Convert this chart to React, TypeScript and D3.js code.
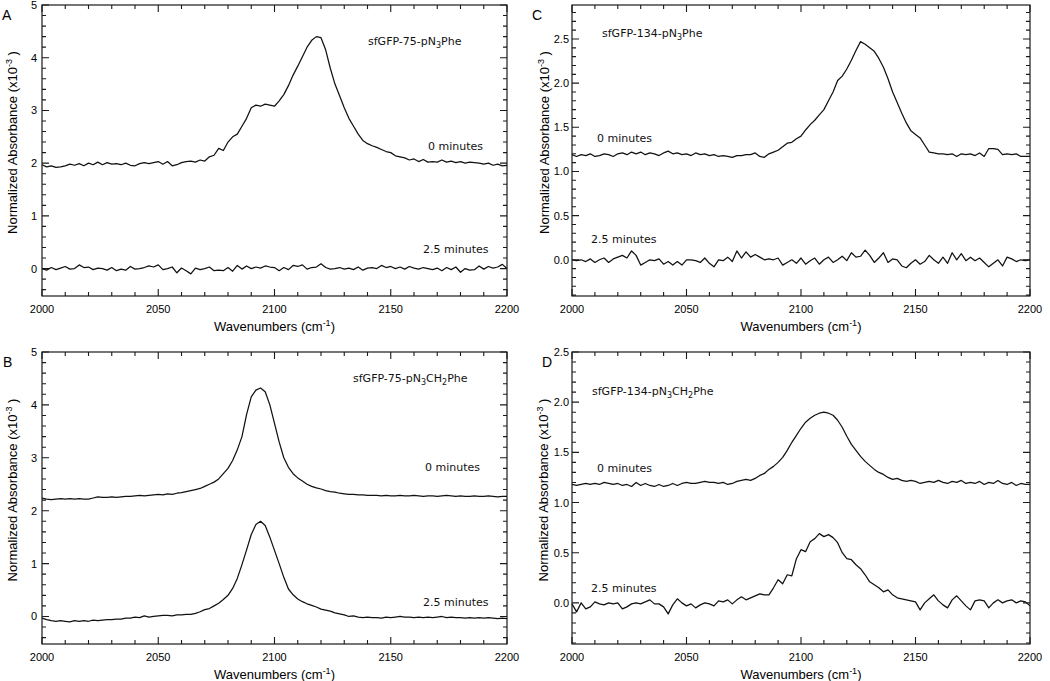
import React from 'react';
import * as d3 from 'd3';

// wavenumber grid the traces were read on (cm-1)
const WAVENUMBERS = d3.range(2000, 2201, 2);
const X_TICKS = [2000, 2050, 2100, 2150, 2200];
const Y_TICKS_75 = [0, 1, 2, 3, 4, 5];
const Y_TICKS_134 = [0, 0.5, 1, 1.5, 2, 2.5];

// A: sfGFP-75-pN3Phe
const A_0MIN = [
  1.97, 1.93, 1.95, 1.92, 1.93, 1.95, 1.98, 1.96, 1.99, 1.95,
  2.0, 1.97, 2.02, 1.97, 2.01, 1.98, 1.99, 1.97, 2.0, 1.96,
  1.95, 1.99, 2.01, 1.99, 2.01, 2.03, 1.98, 2.03, 1.95, 1.97,
  2.01, 2.03, 2.04, 2.02, 2.06, 2.04, 2.12, 2.15, 2.28, 2.24,
  2.4, 2.5, 2.55, 2.7, 2.85, 3.05, 3.1, 3.08, 3.12, 3.1,
  3.08, 3.18, 3.3, 3.47, 3.67, 3.84, 4.02, 4.2, 4.33, 4.4,
  4.38, 4.15, 3.8, 3.5, 3.28, 3.05, 2.85, 2.7, 2.55, 2.43,
  2.37, 2.33, 2.3, 2.26, 2.22, 2.2, 2.14, 2.12, 2.1, 2.06,
  2.08, 2.03, 2.07, 2.02, 2.03, 2.02, 2.06, 2.02, 2.04, 2.01,
  2.03, 2.0, 2.02, 2.01, 2.0, 1.98, 2.0, 1.96, 1.98, 1.95,
  1.96,
];
const A_25MIN = [
  0.0, -0.03, 0.02, -0.02, 0.01, 0.04, -0.01, 0.0, 0.07, 0.02,
  0.03, -0.02, 0.01, 0.0, -0.03, 0.02, -0.04, -0.01, -0.03, 0.04,
  -0.01, 0.0, 0.02, 0.05, 0.03, 0.07, -0.02, 0.0, 0.03, -0.08,
  0.01, -0.04, -0.1, 0.01, -0.02, 0.0, 0.03, -0.04, -0.03, -0.04,
  0.02, -0.05, 0.06, -0.01, 0.05, 0.0, 0.03, 0.01, 0.05, 0.03,
  0.02, -0.04, 0.02, -0.02, 0.06, 0.04, 0.07, -0.01, 0.02, 0.03,
  0.09, 0.02, -0.01, 0.0, 0.02, -0.01, 0.01, -0.02, 0.03, -0.03,
  0.01, 0.02, 0.0, 0.06, 0.02, 0.04, 0.0, 0.03, -0.01, 0.04,
  0.01, -0.01, 0.02, 0.0, -0.02, 0.01, -0.04, 0.02, -0.02, 0.03,
  -0.07, 0.0, -0.03, -0.02, 0.05, -0.01, 0.04, 0.01, 0.03, 0.08,
  0.0,
];

// B: sfGFP-75-pN3CH2Phe
const B_0MIN = [
  2.24, 2.22, 2.21, 2.22, 2.23, 2.22, 2.23, 2.22, 2.23, 2.22,
  2.22, 2.24, 2.26, 2.25, 2.25, 2.26, 2.25, 2.26, 2.27, 2.27,
  2.28, 2.29, 2.28, 2.29, 2.3, 2.31, 2.3, 2.32, 2.31, 2.33,
  2.34, 2.36, 2.38, 2.4, 2.42, 2.46, 2.5, 2.54, 2.6, 2.7,
  2.8, 2.95, 3.15, 3.4, 3.82, 4.15, 4.28, 4.32, 4.25, 4.0,
  3.65, 3.3, 3.0, 2.82, 2.7, 2.62, 2.56, 2.5, 2.46, 2.43,
  2.41, 2.38, 2.36, 2.35, 2.33, 2.32, 2.31, 2.31, 2.3, 2.3,
  2.29, 2.29, 2.29, 2.28, 2.29, 2.28, 2.28, 2.29, 2.28, 2.28,
  2.29, 2.28, 2.27, 2.28, 2.28, 2.27, 2.28, 2.29, 2.28, 2.27,
  2.28, 2.27, 2.27, 2.28, 2.27, 2.27, 2.28, 2.27, 2.26, 2.27,
  2.27,
];
const B_25MIN = [
  -0.03, -0.06, -0.08, -0.09, -0.08, -0.09, -0.1, -0.08, -0.09, -0.08,
  -0.09, -0.07, -0.08, -0.07, -0.06, -0.06, -0.05, -0.05, -0.03, -0.03,
  -0.01, -0.02, 0.01, -0.01, 0.0, 0.01, 0.02, 0.02, 0.01, 0.03,
  0.03, 0.04, 0.04, 0.06, 0.09, 0.13, 0.15, 0.2, 0.25, 0.32,
  0.4, 0.53, 0.72, 0.98, 1.26, 1.55, 1.74, 1.8, 1.72, 1.5,
  1.25, 1.0, 0.74, 0.52, 0.41, 0.33, 0.28, 0.24, 0.21, 0.18,
  0.14, 0.12, 0.1, 0.07, 0.05, 0.03, 0.0, 0.01, -0.01, -0.02,
  -0.01, -0.02, -0.02, -0.03, -0.01, -0.02, -0.01, 0.0, -0.01, -0.01,
  -0.02, -0.01, -0.02, -0.01, -0.02, -0.01, 0.0, -0.02, -0.01, -0.02,
  -0.02, -0.03, -0.02, -0.03, -0.02, -0.03, -0.02, -0.03, -0.04, -0.03,
  -0.04,
];

// C: sfGFP-134-pN3Phe
const C_0MIN = [
  1.19, 1.17, 1.19, 1.18, 1.2, 1.17, 1.18, 1.2, 1.19, 1.17,
  1.2, 1.21, 1.19, 1.22, 1.2, 1.22, 1.19, 1.21, 1.2, 1.18,
  1.21, 1.23, 1.2, 1.21, 1.19, 1.2, 1.18, 1.21, 1.19, 1.2,
  1.18, 1.19, 1.17, 1.18, 1.17, 1.16, 1.18, 1.18, 1.19, 1.19,
  1.21, 1.17, 1.16, 1.2, 1.22, 1.24, 1.28, 1.32, 1.33, 1.37,
  1.4, 1.47, 1.53, 1.58, 1.64, 1.7, 1.8, 1.9, 2.03, 2.08,
  2.16, 2.26, 2.37, 2.47, 2.44, 2.4, 2.36, 2.28, 2.18, 2.05,
  1.9, 1.78, 1.66, 1.55, 1.46, 1.42, 1.38, 1.3, 1.22, 1.21,
  1.2, 1.2, 1.19, 1.2, 1.17, 1.2, 1.19, 1.2, 1.18, 1.21,
  1.17, 1.26, 1.26, 1.25, 1.19, 1.2, 1.19, 1.2, 1.17, 1.17,
  1.17,
];
const C_25MIN = [
  0.0, -0.01, 0.0, -0.02, 0.01, -0.03, 0.0, 0.02, -0.03, 0.01,
  0.03, 0.05, 0.02, 0.1, 0.05, -0.06, -0.03, 0.0, -0.01, 0.01,
  -0.05, -0.02, -0.06, -0.02, -0.06, 0.0, 0.0, -0.01, -0.03, 0.02,
  -0.04, -0.08, 0.0, -0.01, 0.03, -0.02, 0.1, 0.02, 0.09, 0.03,
  0.06, 0.03, 0.0, 0.01, 0.0, 0.02, -0.06, -0.03, 0.0, -0.04,
  0.02, -0.05, -0.01, 0.02, -0.05, 0.0, 0.03, -0.03, 0.0, 0.04,
  -0.01, 0.08, 0.03, 0.04, 0.11, 0.05, -0.03, 0.02, 0.08, -0.03,
  0.01, 0.0, -0.07, -0.09, -0.04, 0.0, -0.05, -0.02, 0.05, 0.0,
  -0.04, 0.03, -0.04, 0.08, 0.0, 0.07, -0.01, 0.03, -0.01, 0.02,
  -0.03, -0.08, -0.04, 0.0, -0.07, 0.03, 0.01, -0.02, 0.0, -0.01,
  0.0,
];

// D: sfGFP-134-pN3CH2Phe
const D_0MIN = [
  1.18, 1.17, 1.18, 1.19, 1.18, 1.19, 1.18, 1.2, 1.19, 1.18,
  1.19, 1.17, 1.18, 1.16, 1.2, 1.17, 1.19, 1.17, 1.16, 1.18,
  1.16, 1.17, 1.19, 1.17, 1.19, 1.2, 1.19, 1.19, 1.2, 1.21,
  1.2, 1.2, 1.19, 1.2, 1.18, 1.19, 1.21, 1.22, 1.23, 1.22,
  1.24, 1.27, 1.29, 1.33, 1.36, 1.4, 1.45, 1.52, 1.6, 1.67,
  1.74, 1.8, 1.84, 1.87, 1.89, 1.9, 1.89, 1.87, 1.82, 1.75,
  1.66, 1.58, 1.52, 1.46, 1.41, 1.37, 1.33, 1.3, 1.28, 1.25,
  1.23, 1.24, 1.22, 1.21, 1.22, 1.21, 1.19, 1.2, 1.21, 1.2,
  1.22, 1.2, 1.19, 1.21, 1.2, 1.22, 1.19, 1.2, 1.19, 1.21,
  1.18, 1.2, 1.19, 1.22, 1.19, 1.18, 1.2, 1.17, 1.19, 1.18,
  1.18,
];
const D_25MIN = [
  -0.01, -0.09, 0.0, -0.06, -0.04, 0.01, -0.01, -0.02, 0.0, -0.01,
  0.0, -0.06, -0.04, -0.01, 0.0, -0.01, 0.01, 0.03, -0.01, -0.01,
  -0.04, -0.11, -0.02, 0.04, 0.0, -0.03, -0.01, -0.05, -0.02, 0.0,
  -0.01, -0.03, 0.02, 0.01, 0.03, -0.01, 0.03, 0.06, 0.03, 0.05,
  0.07, 0.09, 0.08, 0.08, 0.15, 0.23, 0.19, 0.28, 0.27, 0.44,
  0.53, 0.51, 0.61, 0.64, 0.69, 0.66, 0.68, 0.65, 0.6, 0.5,
  0.44, 0.43, 0.38, 0.34, 0.28, 0.21, 0.18, 0.15, 0.11, 0.13,
  0.08, 0.05, 0.04, 0.03, 0.02, 0.01, -0.07, 0.0, 0.04, 0.08,
  0.02, -0.02, -0.05, 0.03, 0.07, 0.02, -0.03, -0.07, 0.02, 0.03,
  0.02, -0.05, 0.0, 0.03, 0.0, 0.02, 0.03, 0.0, 0.02, 0.01,
  -0.03,
];

type Label = { text: string; dx: number; dy: number };

interface PanelSpec {
  letter: string;
  letterPos: [number, number];
  left: number;
  top: number;
  width: number;
  height: number;
  yDomain: [number, number];
  yTicks: number[];
  yMinor: number;
  yFormat: (n: number) => string;
  labelGap: number;
  titleX: number;
  series: number[][];
  sample: { parts: string[]; subs: string[]; dx: number; dy: number };
  labels: Label[];
}

const AXIS_FONT = 'Liberation Sans, Arial, Helvetica, sans-serif';
const NOTE_FONT = 'DejaVu Sans, Verdana, sans-serif';
const INK = '#1a1a1a';

const PANELS: PanelSpec[] = [
  {
    letter: 'A', letterPos: [2, 20],
    left: 42, top: 5, width: 465, height: 291,
    yDomain: [-0.52, 5], yTicks: Y_TICKS_75, yMinor: 0.2, yFormat: d3.format('d'),
    labelGap: 5, titleX: -25,
    series: [A_0MIN, A_25MIN],
    sample: { parts: ['sfGFP-75-pN', 'Phe'], subs: ['3'], dx: 326, dy: 40 },
    labels: [
      { text: '0 minutes', dx: 386, dy: 145 },
      { text: '2.5 minutes', dx: 381, dy: 248 },
    ],
  },
  {
    letter: 'B', letterPos: [3, 367],
    left: 42, top: 352, width: 465, height: 292,
    yDomain: [-0.52, 5], yTicks: Y_TICKS_75, yMinor: 0.2, yFormat: d3.format('d'),
    labelGap: 5, titleX: -25,
    series: [B_0MIN, B_25MIN],
    sample: { parts: ['sfGFP-75-pN', 'CH', 'Phe'], subs: ['3', '2'], dx: 311, dy: 30 },
    labels: [
      { text: '0 minutes', dx: 383, dy: 119 },
      { text: '2.5 minutes', dx: 381, dy: 254 },
    ],
  },
  {
    letter: 'C', letterPos: [532, 20],
    left: 572, top: 5, width: 458, height: 291,
    yDomain: [-0.41, 2.885], yTicks: Y_TICKS_134, yMinor: 0.1, yFormat: d3.format('.1f'),
    labelGap: 3, titleX: -23,
    series: [C_0MIN, C_25MIN],
    sample: { parts: ['sfGFP-134-pN', 'Phe'], subs: ['3'], dx: 30, dy: 32 },
    labels: [
      { text: '0 minutes', dx: 25, dy: 137 },
      { text: '2.5 minutes', dx: 19, dy: 238 },
    ],
  },
  {
    letter: 'D', letterPos: [542, 367],
    left: 572, top: 352, width: 458, height: 292,
    yDomain: [-0.41, 2.5], yTicks: Y_TICKS_134, yMinor: 0.1, yFormat: d3.format('.1f'),
    labelGap: 3, titleX: -24,
    series: [D_0MIN, D_25MIN],
    sample: { parts: ['sfGFP-134-pN', 'CH', 'Phe'], subs: ['3', '2'], dx: 20, dy: 43 },
    labels: [
      { text: '0 minutes', dx: 25, dy: 120 },
      { text: '2.5 minutes', dx: 19, dy: 240 },
    ],
  },
];

const Panel: React.FC<{ p: PanelSpec }> = ({ p }) => {
  const x = d3.scaleLinear().domain([2000, 2200]).range([0, p.width]);
  const y = d3.scaleLinear().domain(p.yDomain).range([p.height, 0]);
  const line = d3
    .line<number>()
    .x((_d, i) => x(WAVENUMBERS[i]))
    .y(d => y(d));

  const xMinor = d3.range(2000, 2201, 10).filter(v => !X_TICKS.includes(v));
  const [yLo, yHi] = p.yDomain;
  const yMinor = d3
    .range(Math.ceil(yLo / p.yMinor) * p.yMinor, yHi + 1e-9, p.yMinor)
    .filter(v => !p.yTicks.some(t => Math.abs(t - v) < 1e-6));

  const MAJ = 7;
  const MIN = 4;

  // inward ticks on all four sides, as one path
  const tp = d3.path();
  const seg = (ax: number, ay: number, bx: number, by: number) => {
    tp.moveTo(ax, ay);
    tp.lineTo(bx, by);
  };
  X_TICKS.forEach(v => {
    seg(x(v), p.height, x(v), p.height - MAJ);
    seg(x(v), 0, x(v), MAJ);
  });
  xMinor.forEach(v => {
    seg(x(v), p.height, x(v), p.height - MIN);
    seg(x(v), 0, x(v), MIN);
  });
  p.yTicks.forEach(v => {
    seg(0, y(v), MAJ, y(v));
    seg(p.width, y(v), p.width - MAJ, y(v));
  });
  yMinor.forEach(v => {
    seg(0, y(v), MIN, y(v));
    seg(p.width, y(v), p.width - MIN, y(v));
  });

  return (
    <g transform={`translate(${p.left},${p.top})`}>
      <text x={p.letterPos[0] - p.left} y={p.letterPos[1] - p.top} fontFamily={AXIS_FONT} fontSize={14} fill="#000">
        {p.letter}
      </text>

      <path d={tp.toString()} fill="none" stroke={INK} strokeWidth={1.1} />
      <rect x={0} y={0} width={p.width} height={p.height} fill="none" stroke={INK} strokeWidth={1.2} />

      <g fontFamily={AXIS_FONT} fontSize={11} fill="#000">
        {X_TICKS.map(v => (
          <text key={`xl${v}`} x={x(v)} y={p.height + 16.5} textAnchor="middle">
            {v}
          </text>
        ))}
        {p.yTicks.map(v => (
          <text key={`yl${v}`} x={-p.labelGap} y={y(v) + 4} textAnchor="end">
            {p.yFormat(v)}
          </text>
        ))}
      </g>

      <text x={p.width / 2} y={p.height + 34.5} textAnchor="middle" fontFamily={AXIS_FONT} fontSize={13} fill="#000">
        Wavenumbers (cm
        <tspan dy={-5} fontSize={9}>-1</tspan>
        <tspan dy={5}>)</tspan>
      </text>
      <text
        transform={`translate(${p.titleX},${p.height / 2 - 8}) rotate(-90)`}
        textAnchor="middle"
        fontFamily={AXIS_FONT}
        fontSize={13}
        fill="#000"
      >
        Normalized Absorbance (x10
        <tspan dy={-5} fontSize={9}>-3</tspan>
        <tspan dy={5}> )</tspan>
      </text>

      {p.series.map((s, i) => (
        <path key={i} d={line(s) ?? ''} fill="none" stroke="#111" strokeWidth={1.25} strokeLinejoin="round" />
      ))}

      <g fontFamily={NOTE_FONT} fontSize={11} fill="#111">
        <text x={p.sample.dx} y={p.sample.dy}>
          {p.sample.parts.map((part, i) => (
            <React.Fragment key={i}>
              <tspan dy={i === 0 ? 0 : -3}>{part}</tspan>
              {i < p.sample.subs.length && (
                <tspan dy={3} fontSize={8}>
                  {p.sample.subs[i]}
                </tspan>
              )}
            </React.Fragment>
          ))}
        </text>
        {p.labels.map(l => (
          <text key={l.text} x={l.dx} y={l.dy}>
            {l.text}
          </text>
        ))}
      </g>
    </g>
  );
};

export default function App() {
  return (
    <svg
      width={1050}
      height={681}
      viewBox="0 0 1050 681"
      style={{ position: 'absolute', left: 0, top: 0, background: '#fff' }}
    >
      {PANELS.map(p => (
        <Panel key={p.letter} p={p} />
      ))}
    </svg>
  );
}
